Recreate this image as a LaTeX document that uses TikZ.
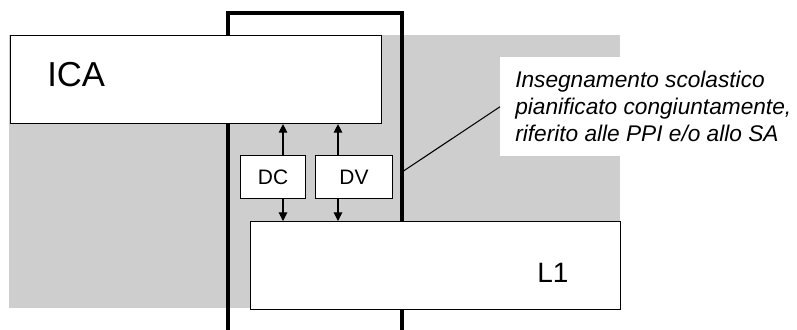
\documentclass[tikz,border=0pt]{standalone}
\usepackage{fontspec}
\setmainfont{Liberation Sans}
\usetikzlibrary{positioning,arrows.meta}
\definecolor{panelgray}{RGB}{206,206,206}

\begin{document}
\begin{tikzpicture}[x=0.75pt,y=-0.75pt,
	box/.style={draw,fill=white,line width=0.8pt,inner sep=0pt},
	link/.style={line width=0.8pt,-{Triangle[length=6.5pt,width=6.5pt]}}]
%	\draw[lightgray] (0,0) grid[step=50] (797,329);
		\useasboundingbox (0,0) rectangle (797,329);
		\fill[panelgray] (9,35) rectangle (620,308);
		\draw[line width=2.3pt] (228,335) -- (228,13) -- (402,13) -- (402,335);
		% the two long boxes
		\node[box,anchor=north west,minimum width=278.25pt,minimum height=66pt] (ica) at (10,35) {};
		\node[anchor=west,font=\fontsize{26}{30}\selectfont,inner sep=0pt] (icatext) at (47,75) {ICA};
		\node[box,anchor=north west,minimum width=277.5pt,minimum height=66pt] (lone) at (250,221) {};
		\node[anchor=west,font=\fontsize{21}{25}\selectfont,inner sep=0pt] (lonetext) at (537,273) {L1};
		% the small boxes in between
		\node[box,anchor=north west,minimum width=48.75pt,minimum height=32.25pt,font=\fontsize{15.7}{18}\selectfont] (dc) at (240,155) {DC};
		\node[box,anchor=north west,minimum width=57.75pt,minimum height=32.25pt,font=\fontsize{15.7}{18}\selectfont] (dv) at (315,155) {DV};
		\coordinate (cola) at (283,0);
		\coordinate (colb) at (338,0);
		\draw[link] (dc.north -| cola) -- (ica.south -| cola);
		\draw[link] (dv.north -| colb) -- (ica.south -| colb);
		\draw[link] (dc.south -| cola) -- (lone.north -| cola);
		\draw[link] (dv.south -| colb) -- (lone.north -| colb);
		% note on the right
		\node[fill=white,anchor=north west,minimum width=222pt,minimum height=74.25pt,inner sep=0pt] (notebg) at (500,57) {};
		\node[anchor=west,inner sep=0pt,align=left,
			font=\fontsize{17}{20}\selectfont\itshape] (note) at (515,106.5)
			{Insegnamento scolastico\\pianificato congiuntamente,\\riferito alle PPI e/o allo SA};
		\coordinate (frameside) at (402,172);
		\draw[line width=0.8pt] (frameside) -- (notebg.west);
	\end{tikzpicture}
\end{document}
